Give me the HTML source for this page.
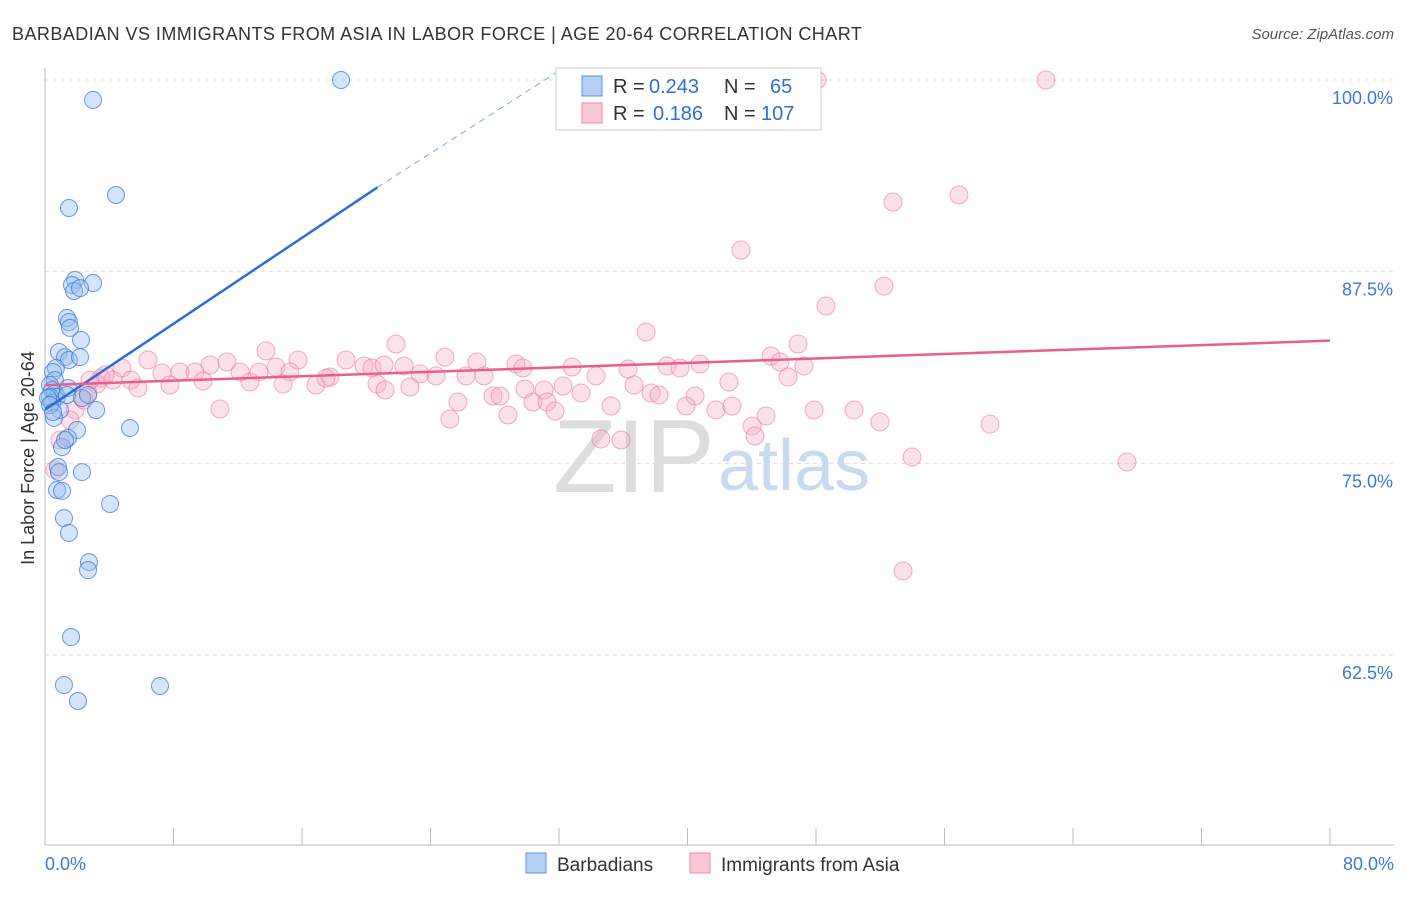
<!DOCTYPE html><html><head><meta charset="utf-8"><style>body{margin:0;background:#fff;font-family:"Liberation Sans",sans-serif}svg text{font-family:"Liberation Sans",sans-serif}</style></head><body>
<svg id="c" width="1406" height="892" xmlns="http://www.w3.org/2000/svg">
<text x="12" y="40" font-size="18" letter-spacing="0.45" fill="#333">BARBADIAN VS IMMIGRANTS FROM ASIA IN LABOR FORCE | AGE 20-64 CORRELATION CHART</text>
<text x="1394" y="39" font-size="15" fill="#555" text-anchor="end" font-style="italic">Source: ZipAtlas.com</text>
<text x="34" y="458" font-size="18" fill="#333" text-anchor="middle" transform="rotate(-90 34 458)">In Labor Force | Age 20-64</text>
<text x="553" y="492" font-size="104" fill="#ddd" font-family="Liberation Serif">ZIP</text>
<text x="718" y="490" font-size="72" fill="#c8daf0">atlas</text>
<g id="g"></g>
<rect x="556" y="68" width="265" height="62" fill="#fff" stroke="#ccc"/>
<rect x="582" y="76" width="20" height="20" fill="#b5d0f5" stroke="#5b8fdc"/>
<rect x="582" y="103" width="20" height="20" fill="#fbc8d6" stroke="#e88aa6"/>
<g font-size="20">
<text x="613" y="93" fill="#333">R =</text><text x="649" y="93" fill="#2f6fd0">0.243</text><text x="724" y="93" fill="#333">N =</text><text x="770" y="93" fill="#2f6fd0">65</text>
<text x="613" y="120" fill="#333">R =</text><text x="653" y="120" fill="#2f6fd0">0.186</text><text x="724" y="120" fill="#333">N =</text><text x="761" y="120" fill="#2f6fd0">107</text>
</g>
<rect x="526" y="853" width="20" height="20" fill="#b5d0f5" stroke="#5b8fdc"/>
<text x="557" y="871" font-size="19" fill="#333">Barbadians</text>
<rect x="690" y="853" width="20" height="20" fill="#fbc8d6" stroke="#e88aa6"/>
<text x="721" y="871" font-size="19" fill="#333">Immigrants from Asia</text>
</svg>
<script>
const yTicks=[100,87.5,75,62.5];
const xTickLabels=["0.0%","80.0%"];
const blueX=[341,93,116,69,75,72,93,74,80,67,69,70,81,59,65,69,80,56,53,55,50,52,55,57,68,50,52,67,82,60,96,54,77,68,62,130,58,59,82,57,62,110,64,69,89,88,71,64,160,78,48,50,53,88,65].map(p=>+((p-45)*80/1285).toFixed(2));
const blueY=[80,100,195,208,280,285,283,291,288,318,322,328,340,352,357,360,357,368,372,380,385,390,393,397,388,397,403,395,398,410,410,418,430,438,447,428,467,472,472,490,491,504,518,533,562,570,637,685,686,701,398,405,412,395,440].map(p=>+(100-(p-80)/15.333).toFixed(2));
const pinkX=[817,1046,959,893,741,884,826,646,396,266,798,771,780,804,445,298,477,346,516,572,667,700,227,210,148,122,162,180,195,240,259,276,290,330,364,372,384,404,420,436,466,484,523,596,628,680,729,788,101,113,131,170,203,250,283,316,326,377,385,410,525,563,581,634,651,659,695,493,500,533,544,547,555,611,686,716,732,766,814,854,880,450,508,458,752,755,601,621,990,912,1127,903,220,97,88,75,70,60,55,138,90,105,84].map(p=>+((p-45)*80/1285).toFixed(2));
const pinkY=[80,80,195,202,250,286,306,332,344,351,344,356,362,366,357,360,362,360,364,367,366,364,362,365,360,368,373,372,372,372,372,367,372,377,366,368,365,366,374,376,376,376,368,376,369,368,382,377,378,380,380,385,381,382,384,385,378,384,390,387,389,386,393,385,393,395,396,396,396,402,390,402,411,406,406,410,406,416,410,410,422,419,415,402,426,436,439,440,424,457,462,571,409,384,393,410,420,440,470,388,380,375,400].map(p=>+(100-(p-80)/15.333).toFixed(2));
const blueTrend=[0,78.5,20.7,93.0,32.0,100.6];
const pinkTrend=[0,80.1,80,83.0];
const X=v=>45+v*1285/80, Y=v=>80+(100-v)*15.333;
const NS="http://www.w3.org/2000/svg",g=document.getElementById('g');
function mk(t,a){const e=document.createElementNS(NS,t);for(const k in a)e.setAttribute(k,a[k]);g.appendChild(e);return e;}
yTicks.forEach(v=>{let l=mk('line',{x1:45,x2:1394,y1:Y(v),y2:Y(v),stroke:'#ddd','stroke-dasharray':'4,4'});


let t=mk('text',{x:1393,y:Y(v)+24,'font-size':18,fill:'#3b78d8','text-anchor':'end'});t.textContent=v.toFixed(1)+'%';

});
let ax=mk('line',{x1:45,x2:45,y1:68,y2:845,stroke:'#bbb'});


let bx=mk('line',{x1:45,x2:1394,y1:845,y2:845,stroke:'#bbb'});


for(let i=0;i<=10;i++){let t=mk('line',{x1:X(i*8),x2:X(i*8),y1:828,y2:845,stroke:'#bbb'});

}
[[0,'start',45],[1,'end',1394]].forEach(([i,a,x])=>{let t=mk('text',{x:x,y:870,'font-size':18,fill:'#3b78d8','text-anchor':a});t.textContent=xTickLabels[i];

});
pinkX.forEach((x,i)=>{let c=mk('circle',{cx:X(x),cy:Y(pinkY[i]),r:9,fill:'rgba(248,170,195,0.35)',stroke:'rgba(232,120,155,0.6)'});

});
blueX.forEach((x,i)=>{let c=mk('circle',{cx:X(x),cy:Y(blueY[i]),r:8.5,fill:'rgba(150,190,240,0.4)',stroke:'rgba(60,120,210,0.75)'});

});
let l1=mk('line',{x1:X(blueTrend[0]),y1:Y(blueTrend[1]),x2:X(blueTrend[2]),y2:Y(blueTrend[3]),stroke:'#2b6fd6','stroke-width':2.5});


let l2=mk('line',{x1:X(blueTrend[2]),y1:Y(blueTrend[3]),x2:X(blueTrend[4]),y2:Y(blueTrend[5]),stroke:'#7aa5e0','stroke-width':1,'stroke-dasharray':'6,5'});


let l3=mk('line',{x1:X(pinkTrend[0]),y1:Y(pinkTrend[1]),x2:X(pinkTrend[2]),y2:Y(pinkTrend[3]),stroke:'#e8608a','stroke-width':2.5});


</script></body></html>
